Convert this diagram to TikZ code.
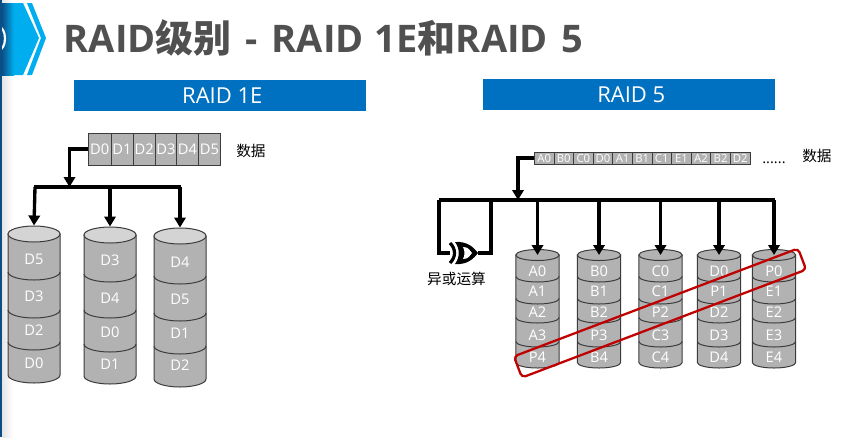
\documentclass[tikz,border=0pt]{standalone}
\usepackage{fontspec}
\setmainfont{Open Sans}
\newfontfamily\cjk{Noto Sans CJK SC}
\usetikzlibrary{positioning,arrows.meta,shapes.geometric}
\definecolor{raidBlue}{HTML}{0070C0}
\definecolor{raidCyan}{HTML}{00AEEF}
\definecolor{raidEdge}{HTML}{0B4F86}
\definecolor{raidGray}{HTML}{B2B2B2}
\definecolor{raidTop}{HTML}{D4D4D4}
\definecolor{raidLine}{HTML}{3C3C3C}
\definecolor{raidTitle}{HTML}{505050}
\definecolor{raidRed}{HTML}{C00000}
\tikzset{
  raid-banner/.style={fill=raidBlue, text=white, minimum width=219pt, minimum height=23.25pt,
    inner sep=0pt, font=\fontsize{16.5}{16.5}\selectfont},
  raid-cell/.style={draw=raidLine, fill=raidGray, text=white, line width=0.6pt, inner sep=0pt,
    anchor=west, font=\fontsize{11}{11}\selectfont},
  raid-small/.style={raid-cell, font=\fontsize{8.5}{8.5}\selectfont},
  raid-body/.style={draw=raidLine, fill=raidGray, line width=0.75pt},
  raid-top/.style={ellipse, draw=raidLine, line width=0.75pt, inner sep=0pt},
  raid-disk/.style={text=white, inner sep=0pt, font=\fontsize{11}{11}\selectfont},
  raid-bus/.style={line width=2.5pt, draw=black},
  raid-flow/.style={raid-bus, -{Triangle[length=7.5pt,width=8.5pt]}},
  raid-note/.style={font=\fontsize{11}{11}\selectfont\cjk, inner sep=0pt}
}
% drum: name, centre x, radius, half height of ellipse (all px), top y, bottom y
\newcommand{\drum}[7]{
  \draw[raid-body] (#2-#3,#5) -- (#2-#3,#6-#4)
    arc[start angle=180, end angle=360, x radius=#3*0.75pt, y radius=#4*0.75pt]
    -- (#2+#3,#5) -- cycle;
  \node[raid-top, fill=#7, minimum width=#3*1.5pt, minimum height=#4*1.5pt] (#1) at (#2,#5) {};
}
% boundary between two parts of a drum
\newcommand{\drumline}[4]{
  \draw[raidLine, line width=0.75pt] (#1-#2,#4-#3)
    arc[start angle=180, end angle=360, x radius=#2*0.75pt, y radius=#3*0.75pt];
}
\begin{document}
\begin{tikzpicture}[x=0.75pt, y=-0.75pt]
\useasboundingbox (0,0) rectangle (862,437);
\fill[white] (0,0) rectangle (862,437);

% Header
\fill[left color=black!10, right color=white] (2,0) rectangle (13,437);
\fill[raidCyan] (0,3) -- (23,3) -- (39,38) -- (23,75) -- (0,75) -- cycle;
\fill[raidCyan] (27,3) -- (32,3) -- (46,38) -- (32,75) -- (27,75) -- (41,38) -- cycle;
\fill[left color=raidEdge, right color=raidCyan] (2,3) rectangle (14,75);
\draw[white, line width=1.6pt] (-1,27) arc[start angle=90, end angle=-90, x radius=4.5pt, y radius=8.6pt];
\fill[raidEdge] (0,0) rectangle (2,437);
\node[anchor=base west, inner sep=0pt, text=raidTitle, font=\fontsize{28.5}{28.5}\selectfont\bfseries] (title) at (63.5,52)
  {RAID{\cjk 级别}\hspace{3pt} -\hspace{3pt} RAID\hspace{1pt} 1E{\cjk 和}RAID\hspace{3pt} 5};
\node[raid-banner, anchor=north west] (left) at (74,80) {\hspace{3pt}RAID 1E};
\node[raid-banner, anchor=north west] (right) at (483,79) {\hspace{3pt}RAID 5};

% RAID 1E data
\foreach \name/\x/\w in {D0/88/22.5,D1/110.5/22,D2/132.5/22.5,D3/155/21,D4/176/22,D5/198/22}
  \node[raid-cell, minimum width=\w*0.75pt, minimum height=24pt] (c\name) at (\x,149) {\name};
\node[raid-note, anchor=west] (dataL) at (236,151) {数据};

% RAID 1E drums
\drum{sa}{34}{26}{8}{234}{383}{raidTop}
\drum{sb}{110}{26}{8}{235}{384}{raidTop}
\drum{sc}{180}{26}{8}{236}{387}{raidTop}
\foreach \y in {280,318,350} {\drumline{34}{26}{8}{\y}}
\foreach \y in {282,318,352} {\drumline{110}{26}{8}{\y}}
\foreach \y in {284,321,354} {\drumline{180}{26}{8}{\y}}
\foreach \t/\y in {D5/259,D3/296,D2/330,D0/363}
  \node[raid-disk] (sa\t) at (34,\y) {\t};
\foreach \t/\y in {D3/260,D4/298,D0/332,D1/364}
  \node[raid-disk] (sb\t) at (110,\y) {\t};
\foreach \t/\y in {D4/262,D5/299,D1/333,D2/365}
  \node[raid-disk] (sc\t) at (180,\y) {\t};

% RAID 1E connectors
\coordinate (busLa) at (35,187);
\coordinate (busLb) at (181,187);
\draw[raid-bus] (sa.north |- busLa) -- (busLb);
\draw[raid-flow] (cD0.west) -| (69.5,187);
\draw[raid-flow] (busLa) -- (sa.north);
\draw[raid-flow] (sb.north |- busLa) -- (sb.north);
\draw[raid-flow] (sc.north |- busLa) -- (sc.north);

% RAID 5 data
\foreach \name [count=\i from 0] in {A0,B0,C0,D0,A1,B1,C1,E1,A2,B2,D2}
  \node[raid-small, minimum width=14.7pt, minimum height=9pt] (r\i) at (534+\i*19.6,158) {\name};
\node[anchor=base west, inner sep=0pt, font=\fontsize{11}{11}\selectfont] (dots) at (762,163) {......};
\node[raid-note, anchor=west] (dataR) at (802,156) {数据};

% RAID 5 drums
\foreach \n/\x/\ta/\tb/\tc/\td/\te in {
    da/537.5/A0/A1/A2/A3/P4,
    db/599/B0/B1/B2/P3/B4,
    dc/660.5/C0/C1/P2/C3/C4,
    dd/719/D0/P1/D2/D3/D4,
    de/774/P0/E1/E2/E3/E4}{
  \drum{\n}{\x}{21.7}{5.5}{255}{368}{raidGray}
  \foreach \y in {282,304,323,347} {\drumline{\x}{21.7}{5.5}{\y}}
  \node[raid-disk] (\n a) at (\x,271) {\ta};
  \node[raid-disk] (\n b) at (\x,291) {\tb};
  \node[raid-disk] (\n c) at (\x,312) {\tc};
  \node[raid-disk] (\n d) at (\x,335) {\td};
  \node[raid-disk] (\n e) at (\x,357) {\te};
}

% RAID 5 connectors
\coordinate (busRa) at (439,200);
\coordinate (busRb) at (775,200);
\coordinate (busRc) at (491,200);
\node[inner sep=0pt, minimum width=20pt, minimum height=15pt] (xorg) at (464,253) {};
\node[raid-note] (xorl) at (456.5,279) {异或运算};
\draw[raid-bus] (busRa) -- (busRb);
\draw[raid-bus] (busRa) |- (xorg.west);
\draw[raid-bus] (busRc) |- (xorg.east);
\draw[line width=2.4pt] (450,243) .. controls (456,249) and (456,257) .. (450,263);
\fill[black] (455,242) .. controls (468,241) and (474,248) .. (478,253)
  .. controls (474,258) and (468,265) .. (455,264) .. controls (460,257) and (460,249) .. (455,242) -- cycle;
\fill[white] (463,247) .. controls (468,247) and (470,250) .. (472,253)
  .. controls (470,256) and (468,259) .. (463,259) .. controls (465,255) and (465,251) .. (463,247) -- cycle;
\draw[raid-flow] (r0.west) -| (518,200);
\draw[raid-flow] (da.center |- busRa) -- (da.center);
\draw[raid-flow] (db.center |- busRa) -- (db.center);
\draw[raid-flow] (dc.center |- busRa) -- (dc.center);
\draw[raid-flow] (dd.center |- busRa) -- (dd.center);
\draw[raid-flow] (de.center |- busRa) -- (de.center);

% Parity stripe
\node[draw=raidRed, line width=1.7pt, rounded corners=3pt, rotate=20.8,
  minimum width=228pt, minimum height=17pt] (parity) at (660,313) {};
\end{tikzpicture}
\end{document}
